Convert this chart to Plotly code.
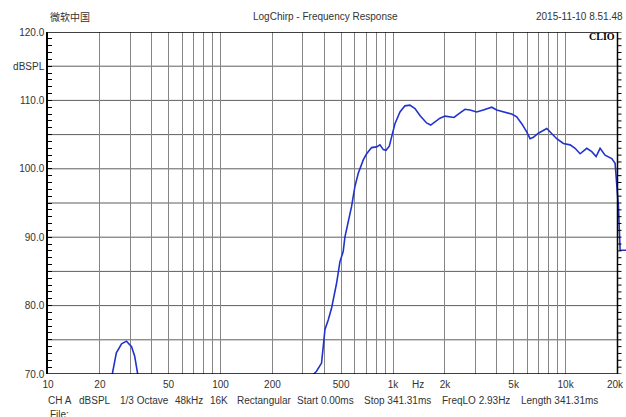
import math
import plotly.graph_objects as go

# ---- data ----
freq_hz = [22, 23.6, 24.9, 26.7, 28.5, 30.5, 31.8, 33.0, 34.5, None,
           335, 348, 360, 385, 394, 403, 421, 440, 471, 492, 514, 526,
           575, 601, 628, 672, 703, 751, 803, 840, 878, 910, 951, 981,
           1026, 1097, 1172, 1253, 1340, 1432, 1565, 1652, 1750, 1871,
           2000, 2138, 2256, 2390, 2612, 2793, 3052, 3337, 3731, 3989,
           4359, 4872, 5210, 5569, 5954, 6225, 6508, 6957, 7777, 8314,
           8888, 9714, 10620, 11355, 12140, 13270, 14186, 15029, 15853,
           16947, 18526, 19375, 19813, 20250, 20710, 22400]
spl_db = [66, 70.2, 73.1, 74.4, 74.8, 74.0, 72.6, 70.2, 66, None,
          68, 70.0, 70.4, 71.6, 74.0, 76.5, 77.9, 79.6, 83.3, 86.4, 87.9, 90.0,
          94.5, 97.4, 99.3, 101.3, 102.2, 103.1, 103.2, 103.5, 102.8, 102.7, 103.3, 104.7,
          106.6, 108.3, 109.2, 109.3, 108.8, 107.8, 106.7, 106.4, 106.9, 107.4,
          107.7, 107.6, 107.5, 108.0, 108.7, 108.6, 108.3, 108.6, 109.0, 108.6,
          108.3, 108.0, 107.6, 106.6, 105.4, 104.4, 104.6, 105.2, 105.9, 105.2,
          104.4, 103.7, 103.5, 103.0, 102.2, 103.0, 102.5, 101.8, 103.0,
          102.0, 101.5, 100.8, 97.9, 94.5, 88.1, 88.1]

x_grid = [10, 20, 30, 40, 50, 60, 70, 80, 90,
          100, 200, 300, 400, 500, 600, 700, 800, 900,
          1000, 2000, 3000, 4000, 5000, 6000, 7000, 8000, 9000,
          10000]
x_labels = {10: "10", 20: "20", 50: "50", 100: "100", 200: "200", 500: "500",
            1000: "1k", 2000: "2k", 5000: "5k", 10000: "10k"}
x_end = 20000
x_end_label = "20k"
y_ticks = [70, 75, 80, 85, 90, 95, 100, 105, 110, 115, 120]
y_labels = ["70.0", "", "80.0", "", "90.0", "", "100.0", "", "110.0", "dBSPL", "120.0"]
y_minor = list(range(70, 121))
h_grid = [75, 80, 85, 90, 95, 100, 105, 110, 115]

info_items = ["CH A", "dBSPL", "1/3 Octave", "48kHz", "16K", "Rectangular",
              "Start 0.00ms", "Stop 341.31ms", "FreqLO 2.93Hz", "Length 341.31ms"]
info_px = [46, 77, 118, 173, 208, 235, 295, 362, 440, 519]

FONT = "Liberation Sans, Arial, sans-serif"
W, H = 626, 417
L, R, T = 48, 0, 32
B = H - 374
PW = W - L - R
PH = H - T - B
X_MAX = 4.3503
edge = (math.log10(x_end) - 1) / (X_MAX - 1)


def px2x(px):
    return (px - L) / PW


def py2y(py):
    return (H - B - py) / PH


fig = go.Figure()
fig.add_trace(go.Scatter(x=freq_hz, y=spl_db, mode="lines",
                         line=dict(color="#2233cc", width=1.6),
                         connectgaps=False, showlegend=False, hoverinfo="skip"))

shapes = []
for v in h_grid:
    shapes.append(dict(type="line", xref="paper", yref="y", x0=0, x1=edge, y0=v, y1=v,
                       line=dict(color="#5f5f5f", width=1), layer="below"))
for v in (70, 120):
    shapes.append(dict(type="line", xref="paper", yref="y", x0=0, x1=edge, y0=v, y1=v,
                       line=dict(color="black", width=1.5), layer="above"))
# right border at 20 kHz with outward ticks
shapes.append(dict(type="line", xref="paper", yref="y", x0=edge, x1=edge, y0=70, y1=120,
                   line=dict(color="black", width=1.5), layer="above"))
for v in y_minor:
    shapes.append(dict(type="line", xref="paper", yref="y", xsizemode="pixel", xanchor=edge,
                       x0=0, x1=4, y0=v, y1=v, line=dict(color="black", width=1), layer="above"))

ann = []
af = dict(family=FONT, size=10, color="#333")
ann.append(dict(text="微软中国", x=px2x(48), y=py2y(16), xref="paper", yref="paper",
                xanchor="left", yanchor="middle", showarrow=False,
                font=dict(family="Noto Sans CJK SC", size=10, color="#333")))
ann.append(dict(text="LogChirp - Frequency Response", x=px2x(325.6), y=py2y(16),
                xref="paper", yref="paper", xanchor="center", yanchor="middle",
                showarrow=False, font=af))
ann.append(dict(text="2015-11-10 8.51.48", x=px2x(625), y=py2y(16),
                xref="paper", yref="paper", xanchor="right", yanchor="middle",
                showarrow=False, font=af))
ann.append(dict(text="<b>CLIO</b>", x=px2x(617), y=py2y(37),
                xref="paper", yref="paper", xanchor="right", yanchor="middle",
                showarrow=False, font=dict(family="Liberation Serif, serif", size=10, color="black")))
ann.append(dict(text="Hz", x=math.log10(1400), y=py2y(384), xref="x", yref="paper",
                xanchor="center", yanchor="middle", showarrow=False, font=af))
ann.append(dict(text=x_end_label, x=math.log10(x_end) - 0.012, y=py2y(384), xref="x", yref="paper",
                xanchor="center", yanchor="middle", showarrow=False, font=af))
for t, p in zip(info_items, info_px):
    ann.append(dict(text=t, x=px2x(p), y=py2y(400), xref="paper", yref="paper",
                    xanchor="left", yanchor="middle", showarrow=False, font=af))
ann.append(dict(text="File:", x=px2x(48), y=py2y(414), xref="paper", yref="paper",
                xanchor="left", yanchor="middle", showarrow=False, font=af))

fig.update_layout(
    width=W, height=H,
    margin=dict(l=L, r=R, t=T, b=B, pad=0),
    paper_bgcolor="white", plot_bgcolor="white",
    showlegend=False,
    shapes=shapes, annotations=ann,
    xaxis=dict(type="log", range=[1, X_MAX], tickmode="array", tickvals=x_grid,
               ticktext=[x_labels.get(v, "") for v in x_grid],
               showgrid=True, gridcolor="#858585", gridwidth=1,
               ticks="", showline=False, zeroline=False, ticklabelstandoff=3,
               tickfont=dict(family=FONT, size=10, color="#333")),
    yaxis=dict(range=[70, 120], tickmode="array", tickvals=y_ticks, ticktext=y_labels,
               showgrid=False, zeroline=False, showline=True, linecolor="black", linewidth=1.5,
               ticks="inside", ticklen=4, tickcolor="black", tickwidth=1,
               minor=dict(tickmode="array", tickvals=y_minor, ticks="inside", ticklen=4,
                          tickcolor="black", tickwidth=1, showgrid=False),
               tickfont=dict(family=FONT, size=10, color="#333")),
)

fig.write_html("out.html", config={"displayModeBar": False},
               post_script="document.body.style.margin='0';document.body.style.overflow='hidden';")
